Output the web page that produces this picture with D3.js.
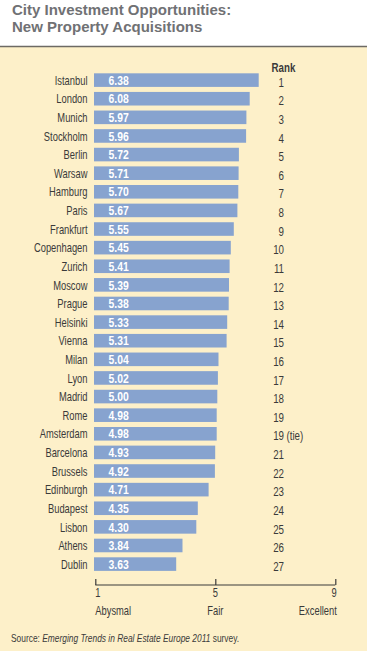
<!DOCTYPE html>
<html lang="en">
<head>
    <meta charset="UTF-8">
    <title>City Investment Opportunities: New Property Acquisitions</title>
    <script src="https://d3js.org/d3.v7.min.js"></script>
    <style>
        * { margin: 0; padding: 0; box-sizing: border-box; }
        body { background: #ffffff; width: 367px; height: 651px; overflow: hidden; }
        svg { display: block; }
        text { font-family: "Liberation Sans", Arial, sans-serif; }
        .title { font-weight: bold; font-size: 15px; fill: #707174; }
    </style>
</head>
<body>
    <div id="chart"></div>

    <script>
        // chart data
        const cities = ["Istanbul", "London", "Munich", "Stockholm", "Berlin", "Warsaw", "Hamburg", "Paris",
            "Frankfurt", "Copenhagen", "Zurich", "Moscow", "Prague", "Helsinki", "Vienna", "Milan", "Lyon",
            "Madrid", "Rome", "Amsterdam", "Barcelona", "Brussels", "Edinburgh", "Budapest", "Lisbon", "Athens", "Dublin"];
        const scores = [6.38, 6.08, 5.97, 5.96, 5.72, 5.71, 5.70, 5.67, 5.55, 5.45, 5.41, 5.39, 5.38, 5.33, 5.31,
            5.04, 5.02, 5.00, 4.98, 4.98, 4.93, 4.92, 4.71, 4.35, 4.30, 3.84, 3.63];
        const ranks = ["1", "2", "3", "4", "5", "6", "7", "8", "9", "10", "11", "12", "13", "14", "15", "16", "17",
            "18", "19", "19 (tie)", "21", "22", "23", "24", "25", "26", "27"];
        const tickValues = [1, 5, 9];
        const tickNames = ["Abysmal", "Fair", "Excellent"];

        const W = 367, H = 651;
        const ink = "#3a3a3a";
        const fs = 13;
        const svg = d3.select("#chart").append("svg").attr("width", W).attr("height", H);

        // condensed text: Liberation Sans squeezed horizontally
        function ctext(parent, x, y, sx) {
            return parent.append("text")
                .attr("transform", `translate(${x},${y}) scale(${sx},1)`);
        }

        // title
        svg.append("text").attr("class", "title").attr("x", 12).attr("y", 15).text("City Investment Opportunities:");
        svg.append("text").attr("class", "title").attr("x", 12).attr("y", 31.5).text("New Property Acquisitions");

        svg.append("rect").attr("x", 0).attr("y", 47).attr("width", W).attr("height", H - 47).attr("fill", "#fdf0c9");
        svg.append("line").attr("x1", 0).attr("x2", W).attr("y1", 46.5).attr("y2", 46.5)
            .attr("stroke", "#6d6a64").attr("stroke-width", 1.5);

        const x = d3.scaleLinear().domain([1, 9]).range([95.3, 335.3]);
        const y = d3.scaleBand().domain(cities).range([70.8, 573.4]).paddingInner(0.27).paddingOuter(0.135);
        const mid = d => y(d) + y.bandwidth() / 2;

        const rows = svg.append("g");
        cities.forEach((c, i) => {
            rows.append("rect")
                .attr("x", 94)
                .attr("y", y(c))
                .attr("width", x(scores[i]) - 94 + 2)
                .attr("height", y.bandwidth())
                .attr("fill", "#87a3cf");

            ctext(rows, 87.5, mid(c) + 4.7, 0.72)
                .attr("text-anchor", "end")
                .attr("font-size", fs)
                .attr("fill", ink)
                .text(c);

            ctext(rows, 108.5, mid(c) + 4.7, 0.8)
                .attr("font-size", fs)
                .attr("font-weight", "bold")
                .attr("fill", "#ffffff")
                .text(scores[i].toFixed(2));

            const parts = ranks[i].split(" ");
            ctext(rows, 284, mid(c) + 6.7, 0.75)
                .attr("text-anchor", "end")
                .attr("font-size", fs)
                .attr("fill", ink)
                .text(parts[0]);
            if (parts.length > 1) {
                ctext(rows, 286.5, mid(c) + 6.7, 0.75)
                    .attr("font-size", fs)
                    .attr("fill", ink)
                    .text(parts.slice(1).join(" "));
            }
        });

        ctext(svg, 271.5, 71.5, 0.75)
            .attr("font-size", fs)
            .attr("font-weight", "bold")
            .attr("fill", ink)
            .text("Rank");

        // axis
        const axis = svg.append("g")
            .attr("transform", "translate(0,585)")
            .call(d3.axisTop(x).tickValues(tickValues).tickSize(6).tickFormat(""));
        axis.select(".domain").attr("stroke", ink).attr("stroke-width", 1.2).attr("d", `M${x(1)},0H${x(9)}`);
        axis.selectAll(".tick line").attr("stroke", ink).attr("stroke-width", 1.2);

        const anchors = ["start", "middle", "end"];
        tickValues.forEach((v, i) => {
            const px = x(v) + (i === 2 ? 1.5 : 0);
            ctext(svg, px, 597, 0.72)
                .attr("text-anchor", anchors[i])
                .attr("font-size", fs)
                .attr("fill", ink)
                .text(v);
            ctext(svg, px, 614.5, 0.72)
                .attr("text-anchor", anchors[i])
                .attr("font-size", fs)
                .attr("fill", ink)
                .text(tickNames[i]);
        });

        // source note
        const src = ctext(svg, 11, 642, 0.8)
            .attr("font-size", 10.5)
            .attr("fill", ink);
        src.append("tspan").text("Source: ");
        src.append("tspan").attr("font-style", "italic").text("Emerging Trends in Real Estate Europe 2011");
        src.append("tspan").text(" survey.");
    </script>
</body>
</html>
